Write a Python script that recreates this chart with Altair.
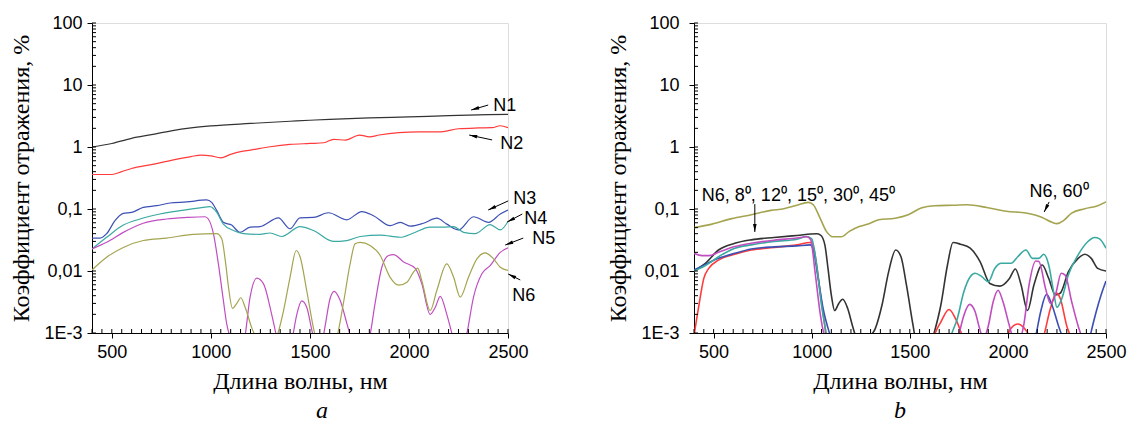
import math
import altair as alt
import pandas as pd

XMIN, XMAX = 400, 2500
YMIN, YMAX = 0.001, 100
L = 0.0004  # below the axis bottom (clipped)

# ---------------- panel a ----------------
a_names = ["N1", "N2", "N3", "N4", "N5", "N6"]
a_colors = ["#333333", "#ff3b3b", "#3c50b4", "#3aa9a2", "#c04ec0", "#a4a450"]

a_n1_w = [400, 500, 600, 700, 800, 900, 1000, 1200, 1400, 1500, 1600, 1800, 2000, 2200, 2400, 2500]
a_n1_v = [1.0, 1.14, 1.38, 1.58, 1.82, 2.03, 2.19, 2.4, 2.6, 2.7, 2.8, 2.95, 3.05, 3.2, 3.32, 3.35]

a_n2_w = [400, 500, 550, 600, 700, 800, 900, 950, 1000, 1050, 1100, 1150, 1200, 1300, 1400, 1500, 1570,
          1620, 1680, 1750, 1800, 1850, 1950, 2050, 2150, 2250, 2350, 2420, 2460, 2500]
a_n2_v = [0.36, 0.36, 0.40, 0.45, 0.52, 0.61, 0.70, 0.74, 0.72, 0.67, 0.76, 0.84, 0.89, 1.01, 1.10, 1.14, 1.17,
          1.33, 1.29, 1.56, 1.46, 1.56, 1.70, 1.75, 1.75, 1.97, 2.03, 2.05, 2.2, 2.05]

a_n3_w = [400, 440, 474, 516, 558, 600, 659, 727, 794, 878, 979, 1004, 1030, 1063, 1105, 1147, 1198, 1248,
          1341, 1400, 1450, 1518, 1594, 1686, 1762, 1821, 1905, 1956, 2006, 2073, 2141, 2191, 2250, 2326,
          2402, 2461, 2500]
a_n3_v = [0.034, 0.034, 0.040, 0.065, 0.085, 0.088, 0.106, 0.113, 0.125, 0.130, 0.140, 0.128, 0.094, 0.061,
          0.055, 0.042, 0.051, 0.052, 0.072, 0.048, 0.072, 0.073, 0.087, 0.067, 0.091, 0.078, 0.054, 0.061,
          0.053, 0.059, 0.071, 0.057, 0.046, 0.075, 0.061, 0.083, 0.096]

a_n4_w = [400, 474, 558, 642, 743, 845, 945, 996, 1030, 1063, 1114, 1164, 1248, 1299, 1358, 1450, 1518,
          1618, 1686, 1754, 1855, 1956, 2023, 2107, 2175, 2225, 2276, 2334, 2410, 2461, 2500]
a_n4_v = [0.0227, 0.035, 0.055, 0.069, 0.083, 0.094, 0.104, 0.109, 0.088, 0.057, 0.045, 0.040, 0.039,
          0.041, 0.036, 0.052, 0.045, 0.030, 0.031, 0.036, 0.038, 0.035, 0.041, 0.051, 0.051, 0.052, 0.042,
          0.040, 0.056, 0.046, 0.063]

a_n5_w = [400, 474, 558, 659, 777, 878, 971, 987, 1013, 1038, 1063, 1080, 1100, 1130, 1170, 1198, 1232,
          1266, 1307, 1335, 1370, 1410, 1434, 1459, 1484, 1510, 1545, 1575, 1602, 1622, 1652, 1690, 1720,
          1760, 1800, 1829, 1863, 1897, 1922, 1973, 2032, 2065, 2107, 2133, 2158, 2191, 2220, 2255, 2290,
          2326, 2368, 2410, 2461, 2500]
a_n5_v = [0.0227, 0.029, 0.042, 0.059, 0.069, 0.073, 0.075, 0.069, 0.040, 0.013, 0.0034, 0.0014, 0.0008,
          L, 0.0008, 0.0038, 0.0077, 0.0062, 0.002, 0.0008, L, 0.0008, 0.002, 0.0033, 0.0026, 0.0011, L,
          0.0012, 0.0036, 0.0047, 0.0034, 0.0013, 0.0006, L, 0.0008, 0.003, 0.0115, 0.0178, 0.0184, 0.014,
          0.011, 0.0062, 0.002, 0.0026, 0.0039, 0.002, 0.0009, L, 0.0009, 0.0038, 0.009, 0.0122, 0.020,
          0.0236]

a_n6_w = [400, 474, 558, 659, 777, 912, 1030, 1055, 1075, 1089, 1109, 1131, 1151, 1173, 1207, 1240, 1280,
          1330, 1367, 1400, 1431, 1451, 1484, 1518, 1560, 1600, 1635, 1669, 1703, 1728, 1754, 1804, 1855,
          1905, 1948, 1990, 2023, 2044, 2065, 2107, 2141, 2191, 2225, 2259, 2301, 2343, 2385, 2427, 2461,
          2500]
a_n6_v = [0.0104, 0.0167, 0.024, 0.031, 0.034, 0.039, 0.040, 0.033, 0.013, 0.0055, 0.0025, 0.003, 0.0037,
          0.0026, 0.0012, 0.0007, L, 0.0008, 0.0023, 0.008, 0.0214, 0.0167, 0.0048, 0.0012, L, L, 0.0008,
          0.003, 0.013, 0.0274, 0.029, 0.0257, 0.0178, 0.0079, 0.0059, 0.0066, 0.0096, 0.0111, 0.007,
          0.0023, 0.0049, 0.013, 0.008, 0.0038, 0.008, 0.0157, 0.0196, 0.0157, 0.0115, 0.0102]

a_label_text = ["N1", "N2", "N3", "N4", "N5", "N6"]
a_label_x = [2425, 2461, 2526, 2582, 2622, 2521]
a_label_y = [4.6, 1.12, 0.145, 0.069, 0.0328, 0.00395]
a_arrow_x1 = [2400, 2420, 2501, 2572, 2577, 2562]
a_arrow_y1 = [4.75, 1.30, 0.135, 0.083, 0.034, 0.00716]
a_arrow_x2 = [2314, 2304, 2400, 2496, 2486, 2501]
a_arrow_y2 = [3.95, 1.56, 0.0964, 0.0617, 0.0262, 0.00895]

# ---------------- panel b ----------------
b_names = ["8", "12", "15", "30", "45", "60"]
b_colors = ["#000000", "#ff1a1a", "#1f3fbf", "#1f8a80", "#a050c8", "#6b7a1e"]

b_k_w = [400, 458, 525, 608, 692, 808, 925, 1025, 1045, 1067, 1083, 1100, 1117, 1138, 1158, 1183, 1208,
         1228, 1260, 1292, 1325, 1358, 1392, 1428, 1455, 1483, 1517, 1548, 1585, 1620, 1658, 1692, 1720,
         1758, 1808, 1858, 1908, 1958, 2008, 2038, 2067, 2100, 2133, 2175, 2208, 2242, 2267, 2308, 2358,
         2392, 2425, 2458, 2500]
b_k_v = [0.010, 0.0133, 0.0218, 0.028, 0.0318, 0.0347, 0.0374, 0.0398, 0.038, 0.0264, 0.011, 0.0041, 0.0023,
         0.003, 0.0035, 0.0025, 0.0013, 0.0008, L, 0.0008, 0.0012, 0.0028, 0.0097, 0.0218, 0.017, 0.0059,
         0.0013, L, L, 0.0009, 0.0028, 0.0125, 0.0288, 0.0271, 0.0233, 0.0142, 0.0063, 0.0057, 0.0076,
         0.0108, 0.006, 0.0023, 0.006, 0.0125, 0.0076, 0.0041, 0.0044, 0.0097, 0.016, 0.0186, 0.016, 0.011,
         0.010]

b_r_w = [400, 425, 450, 475, 525, 608, 692, 808, 925, 992, 1008, 1025, 1045, 1067, 1085, 1600, 1625, 1658,
         1700, 1733, 1767, 1800, 1980, 2008, 2050, 2083, 2108, 2140, 2183, 2217, 2247, 2267, 2300, 2317,
         2340, 2500]
b_r_v = [0.0009, 0.0028, 0.0076, 0.011, 0.015, 0.0186, 0.0218, 0.024, 0.0264, 0.0288, 0.025, 0.0125,
         0.0041, 0.0013, L, L, 0.0009, 0.0015, 0.0024, 0.0017, 0.0009, L, L, 0.0011, 0.0014, 0.0012,
         0.0009, L, 0.0009, 0.0025, 0.0044, 0.0036, 0.0013, 0.0009, L, L]

b_b_w = [400, 458, 525, 608, 692, 808, 925, 992, 1008, 1033, 1058, 1083, 1100, 1130, 2110, 2142, 2167,
         2197, 2225, 2258, 2275, 2300, 2400, 2420, 2450, 2475, 2500]
b_b_v = [0.0104, 0.0128, 0.016, 0.0193, 0.0226, 0.0245, 0.0254, 0.0264, 0.022, 0.0076, 0.0025, 0.0012,
         0.0008, L, L, 0.0009, 0.0022, 0.0042, 0.0028, 0.0013, 0.0009, L, L, 0.0009, 0.0022, 0.0041, 0.0069]

b_t_w = [400, 458, 525, 608, 692, 808, 925, 975, 1000, 1025, 1050, 1067, 1080, 1110, 1680, 1710, 1742,
         1775, 1808, 1833, 1867, 1900, 1933, 1967, 2017, 2050, 2092, 2125, 2158, 2183, 2208, 2233, 2250,
         2275, 2308, 2358, 2408, 2442, 2467, 2500]
b_t_v = [0.010, 0.0122, 0.017, 0.0233, 0.0264, 0.030, 0.0326, 0.036, 0.033, 0.0125, 0.0028, 0.0013,
         0.0008, L, L, 0.0009, 0.0017, 0.0046, 0.0081, 0.0092, 0.0081, 0.0067, 0.011, 0.0133, 0.0133, 0.017,
         0.0218, 0.016, 0.016, 0.0186, 0.0125, 0.0046, 0.0026, 0.0036, 0.0086, 0.0182, 0.0299, 0.0347,
         0.033, 0.0233]

b_p_w = [400, 442, 475, 525, 608, 692, 808, 925, 975, 995, 1017, 1042, 1058, 1070, 1100, 1730, 1750, 1775,
         1805, 1833, 1855, 1875, 1900, 1925, 1950, 1975, 2008, 2030, 2060, 2080, 2108, 2142, 2158, 2192,
         2217, 2242, 2272, 2292, 2325, 2358, 2380, 2410, 2500]
b_p_v = [0.0193, 0.0177, 0.0177, 0.020, 0.0248, 0.028, 0.0314, 0.034, 0.0356, 0.032, 0.0097, 0.0022,
         0.0011, 0.0008, L, L, 0.0009, 0.0019, 0.0029, 0.0022, 0.0012, 0.0008, 0.0013, 0.0032, 0.0049,
         0.0032, 0.0013, 0.0008, 0.0008, 0.0013, 0.006, 0.0145, 0.0142, 0.0052, 0.003, 0.0041, 0.0092,
         0.0086, 0.0032, 0.0013, 0.0008, L, L]

b_o_w = [400, 492, 592, 692, 792, 858, 925, 983, 1008, 1042, 1075, 1108, 1150, 1192, 1242, 1292, 1342,
         1425, 1492, 1558, 1625, 1725, 1792, 1892, 1992, 2092, 2175, 2225, 2250, 2283, 2325, 2392, 2458,
         2500]
b_o_v = [0.050, 0.057, 0.070, 0.081, 0.095, 0.101, 0.115, 0.128, 0.117, 0.072, 0.0435, 0.0356, 0.0356,
         0.0435, 0.052, 0.058, 0.067, 0.071, 0.081, 0.104, 0.113, 0.115, 0.117, 0.106, 0.092, 0.086, 0.073,
         0.061, 0.058, 0.065, 0.086, 0.101, 0.113, 0.13]

b_label_text = ["N6, 8\u2070, 12\u2070, 15\u2070, 30\u2070, 45\u2070", "N6, 60\u2070"]
b_label_x = [440, 2110]
b_label_y = [0.165, 0.188]
b_arrow_x1 = [710, 2210]
b_arrow_y1 = [0.12, 0.130]
b_arrow_x2 = [710, 2185]
b_arrow_y2 = [0.0426, 0.0895]

# axis decoration positions
x_major = [500, 1000, 1500, 2000, 2500]
x_minor = list(range(400, 2501, 50))
y_major = [0.001, 0.01, 0.1, 1, 10, 100]
y_minor = [k * 10.0 ** e for e in range(-3, 2) for k in range(1, 10)] + [100]

H = 310
SANS = "Arial, Liberation Sans, sans-serif"
SERIF = "Times New Roman, Liberation Serif, DejaVu Serif, serif"


def build_panel(names, colors, ws, vs, sw, W, lab_t, lab_x, lab_y, ax1, ay1, ax2, ay2,
                letter, letter_dx, y_label_pad, y_title_pad):
    rows = []
    for n, wl, vl in zip(names, ws, vs):
        for a, b in zip(wl, vl):
            rows.append({"s": n, "w": a, "v": b})
    df = pd.DataFrame(rows)

    xscale = alt.Scale(domain=[XMIN, XMAX], nice=False, zero=False)
    yscale = alt.Scale(type="log", domain=[YMIN, YMAX], nice=False)
    xaxis = alt.Axis(values=x_major, format="d", title="Длина волны, нм", titleFont=SERIF, titleFontSize=24,
                     titleFontWeight="normal", titleColor="black", titlePadding=8,
                     labelFont=SANS, labelFontSize=18, labelColor="black", labelPadding=5,
                     labelFlush=False, labelOverlap=False, tickSize=5, tickColor="black",
                     domainColor="black", grid=False)
    yaxis = alt.Axis(values=y_major, title="Коэффициент отражения, %", titleFont=SERIF,
                     titleFontSize=24, titleFontWeight="normal", titleColor="black",
                     titlePadding=y_title_pad,
                     labelExpr="datum.value >= 1 ? format(datum.value, 'd') : (datum.value > 0.05 ? '0,1' : (datum.value > 0.005 ? '0,01' : '1E-3'))",
                     labelFont=SANS, labelFontSize=18, labelColor="black", labelPadding=y_label_pad,
                     labelOverlap=False, tickSize=5, tickColor="black", domainColor="black", grid=False)

    X = lambda f: alt.X(f, type="quantitative", scale=xscale, axis=xaxis)
    Y = lambda f: alt.Y(f, type="quantitative", scale=yscale, axis=yaxis)

    lines = alt.Chart(df).mark_line(clip=True, strokeWidth=sw, interpolate="monotone").encode(
        x=X("w"), y=Y("v"),
        color=alt.Color("s:N", scale=alt.Scale(domain=names, range=colors), legend=None),
        order=alt.Order("w:Q"),
    )

    xt = alt.Chart(pd.DataFrame({"w": x_minor})).mark_rule(color="black", strokeWidth=1).encode(
        x=X("w"), y=alt.value(H - 4), y2=alt.value(H))
    yt = alt.Chart(pd.DataFrame({"v": y_minor})).mark_rule(color="black", strokeWidth=1).encode(
        y=Y("v"), x=alt.value(0), x2=alt.value(4))

    tdf = pd.DataFrame({"x": lab_x, "y": lab_y, "t": lab_t})
    texts = alt.Chart(tdf).mark_text(align="left", baseline="middle", font=SANS, fontSize=18,
                                     color="black").encode(x=X("x"), y=Y("y"), text="t:N")

    angs = []
    for a1, b1, a2, b2 in zip(ax1, ay1, ax2, ay2):
        dx = (a2 - a1) / (XMAX - XMIN) * W
        dy = -(math.log10(b2) - math.log10(b1)) / 5 * H
        angs.append(math.degrees(math.atan2(dx, -dy)) % 360)
    adf = pd.DataFrame({"x1": ax1, "y1": ay1, "x2": ax2, "y2": ay2, "ang": angs})
    shafts = alt.Chart(adf).mark_rule(color="black", strokeWidth=1).encode(
        x=X("x1"), y=Y("y1"), x2="x2:Q", y2="y2:Q")
    heads = alt.Chart(adf).mark_point(shape="M0,0L0.38,1.7L-0.38,1.7Z", filled=True, color="black",
                                      size=90, opacity=1).encode(
        x=X("x2"), y=Y("y2"), angle=alt.Angle("ang:Q", scale=None))

    return alt.layer(lines, xt, yt, shafts, heads, texts).properties(
        width=W, height=H,
        title=alt.TitleParams(letter, orient="bottom", font=SERIF, fontStyle="italic", fontSize=24,
                              fontWeight="normal", color="black", dx=letter_dx, offset=6),
    )


left = build_panel(a_names, a_colors,
                   [a_n1_w, a_n2_w, a_n3_w, a_n4_w, a_n5_w, a_n6_w],
                   [a_n1_v, a_n2_v, a_n3_v, a_n4_v, a_n5_v, a_n6_v],
                   1.2, 416, a_label_text, a_label_x, a_label_y,
                   a_arrow_x1, a_arrow_y1, a_arrow_x2, a_arrow_y2, "a", 22, 5, 10)

right = build_panel(b_names, b_colors,
                    [b_k_w, b_r_w, b_b_w, b_t_w, b_p_w, b_o_w],
                    [b_k_v, b_r_v, b_b_v, b_t_v, b_p_v, b_o_v],
                    1.6, 412, b_label_text, b_label_x, b_label_y,
                    b_arrow_x1, b_arrow_y1, b_arrow_x2, b_arrow_y2, "b", 0, 10, 10)

chart = alt.hconcat(left, right, spacing=186, bounds="flush").properties(
    padding={"left": 1, "top": 5, "right": 0, "bottom": 5}
).configure_view(stroke=None).configure(background="white")

chart.save("out.html", embed_options={"renderer": "svg", "actions": False})
